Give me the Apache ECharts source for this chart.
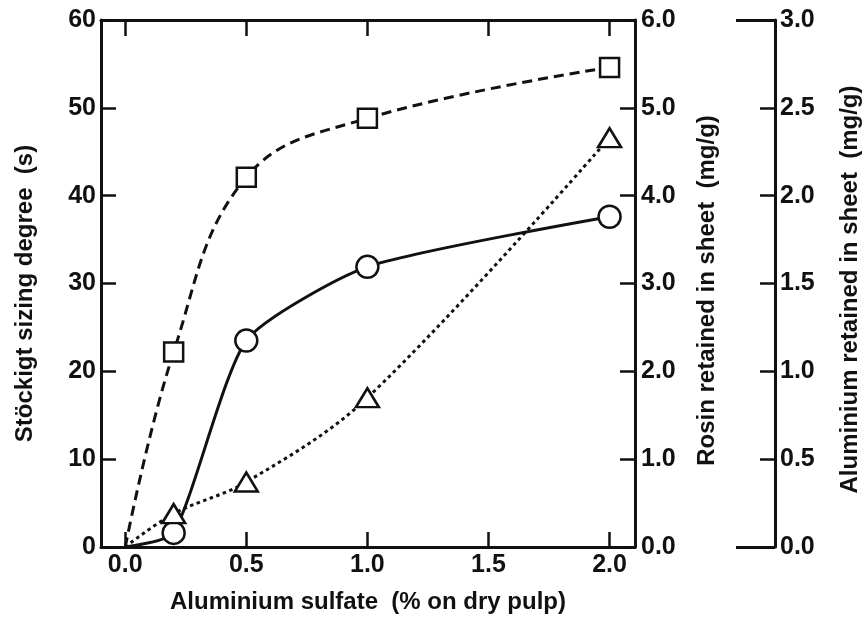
<!DOCTYPE html>
<html>
<head>
<meta charset="utf-8">
<script src="https://cdn.jsdelivr.net/npm/echarts@6/dist/echarts.min.js"></script>
<style>
  html, body { margin: 0; padding: 0; background: #fff; }
  #chart { width: 864px; height: 618px; }
</style>
</head>
<body>
<div id="chart"></div>
<script>
// Aluminium sulfate dosage (% on dry pulp)
const dosage = [0, 0.2, 0.5, 1.0, 2.0];
// Stöckigt sizing degree (s)
const sizingDegree = [0, 22.2, 42.1, 48.8, 54.6];
// Rosin retained in sheet (mg/g)
const rosinRetained = [0, 0.16, 2.35, 3.19, 3.76];
// Aluminium retained in sheet (mg/g)
const aluminiumRetained = [0, 0.19, 0.37, 0.85, 2.33];

// Tick positions
const xTicks = [0, 0.5, 1.0, 1.5, 2.0];
const bracketTicks = [0, 3];

const FONT = '"Liberation Sans", Arial, Helvetica, sans-serif';
const INK = '#111';

function pairs(xs, ys) {
  // the zero-dosage point carries the curve's start but no marker
  return xs.map((x, i) => i === 0 ? { value: [x, ys[i]], symbol: 'none' } : [x, ys[i]]);
}

const axisLine = { show: true, onZero: false, lineStyle: { color: INK, width: 3 } };
const tickStyle = { color: INK, width: 2.5 };
const labelStyle = { color: INK, fontFamily: FONT, fontWeight: 'bold', fontSize: 25 };
const nameStyle = { color: INK, fontFamily: FONT, fontWeight: 'bold', fontSize: 24 };

const chart = echarts.init(document.getElementById('chart'), null, { renderer: 'canvas' });

const markerStyle = { color: '#fff', borderColor: INK, borderWidth: 2.5 };

chart.setOption({
  animation: false,
  backgroundColor: '#fff',
  grid: { left: 101, right: 229, top: 20, bottom: 71, show: false,
          containLabel: false, outerBoundsMode: 'none' },
  xAxis: [
    {
      type: 'value', min: -0.1, max: 2.105, position: 'bottom',
      name: 'Aluminium sulfate  (% on dry pulp)',
      nameLocation: 'middle', nameGap: 43, nameTextStyle: nameStyle,
      axisLine: axisLine,
      axisTick: { show: true, inside: true, length: 15, customValues: xTicks, lineStyle: tickStyle },
      axisLabel: { show: true, customValues: xTicks, margin: 6, formatter: v => v.toFixed(1), ...labelStyle },
      splitLine: { show: false }
    },
    {
      type: 'value', min: -0.1, max: 2.105, position: 'top',
      axisLine: axisLine,
      axisTick: { show: true, inside: true, length: 16, customValues: xTicks, lineStyle: tickStyle },
      axisLabel: { show: false },
      splitLine: { show: false }
    }
  ],
  yAxis: [
    {
      type: 'value', min: 0, max: 60, interval: 10, position: 'left',
      name: 'Stöckigt sizing degree  (s)',
      nameLocation: 'middle', nameRotate: 90, nameGap: 64,
      nameTextStyle: { ...nameStyle, padding: [0, 20, 0, 0] },
      axisLine: axisLine,
      axisTick: { show: true, inside: true, length: 15, lineStyle: tickStyle },
      axisLabel: { margin: 5, ...labelStyle },
      splitLine: { show: false }
    },
    {
      type: 'value', min: 0, max: 6, interval: 1, position: 'right',
      name: 'Rosin retained in sheet  (mg/g)',
      nameLocation: 'middle', nameRotate: 90, nameGap: 60,
      nameTextStyle: { ...nameStyle, padding: [0, 14, 0, 0] },
      axisLine: axisLine,
      axisTick: { show: true, inside: true, length: 15, lineStyle: tickStyle },
      axisLabel: { margin: 6, formatter: v => v.toFixed(1), ...labelStyle },
      splitLine: { show: false }
    },
    {
      type: 'value', min: 0, max: 3, interval: 0.5, position: 'right', offset: 140,
      name: 'Aluminium retained in sheet  (mg/g)',
      nameLocation: 'middle', nameRotate: 90, nameGap: 63,
      nameTextStyle: { ...nameStyle, padding: [0, 12, 0, 0] },
      axisLine: axisLine,
      axisTick: { show: true, inside: true, length: 15, lineStyle: tickStyle },
      axisLabel: { margin: 5, formatter: v => v.toFixed(1), ...labelStyle },
      splitLine: { show: false }
    },
    {
      // end brackets of the aluminium axis
      type: 'value', min: 0, max: 3, position: 'right', offset: 140,
      axisLine: { show: false, onZero: false },
      axisTick: { show: true, inside: true, length: 39, customValues: bracketTicks,
                  lineStyle: { color: INK, width: 3 } },
      axisLabel: { show: false },
      splitLine: { show: false }
    }
  ],
  series: [
    {
      name: 'Stöckigt sizing degree', type: 'line', xAxisIndex: 0, yAxisIndex: 0,
      data: pairs(dosage, sizingDegree),
      smooth: 0.4,
      symbol: 'rect', symbolSize: 19,
      lineStyle: { color: INK, width: 3, type: [10, 6] },
      itemStyle: markerStyle, z: 3
    },
    {
      name: 'Rosin retained in sheet', type: 'line', xAxisIndex: 0, yAxisIndex: 1,
      data: pairs(dosage, rosinRetained),
      smooth: 0.2,
      symbol: 'circle', symbolSize: 22,
      lineStyle: { color: INK, width: 3, type: 'solid' },
      itemStyle: markerStyle, z: 3
    },
    {
      name: 'Aluminium retained in sheet', type: 'line', xAxisIndex: 0, yAxisIndex: 2,
      data: pairs(dosage, aluminiumRetained),
      smooth: 0.35,
      symbol: 'triangle', symbolSize: [23, 19],
      lineStyle: { color: INK, width: 3, type: [3.5, 3.5] },
      itemStyle: markerStyle, z: 3
    }
  ]
});
</script>
</body>
</html>
